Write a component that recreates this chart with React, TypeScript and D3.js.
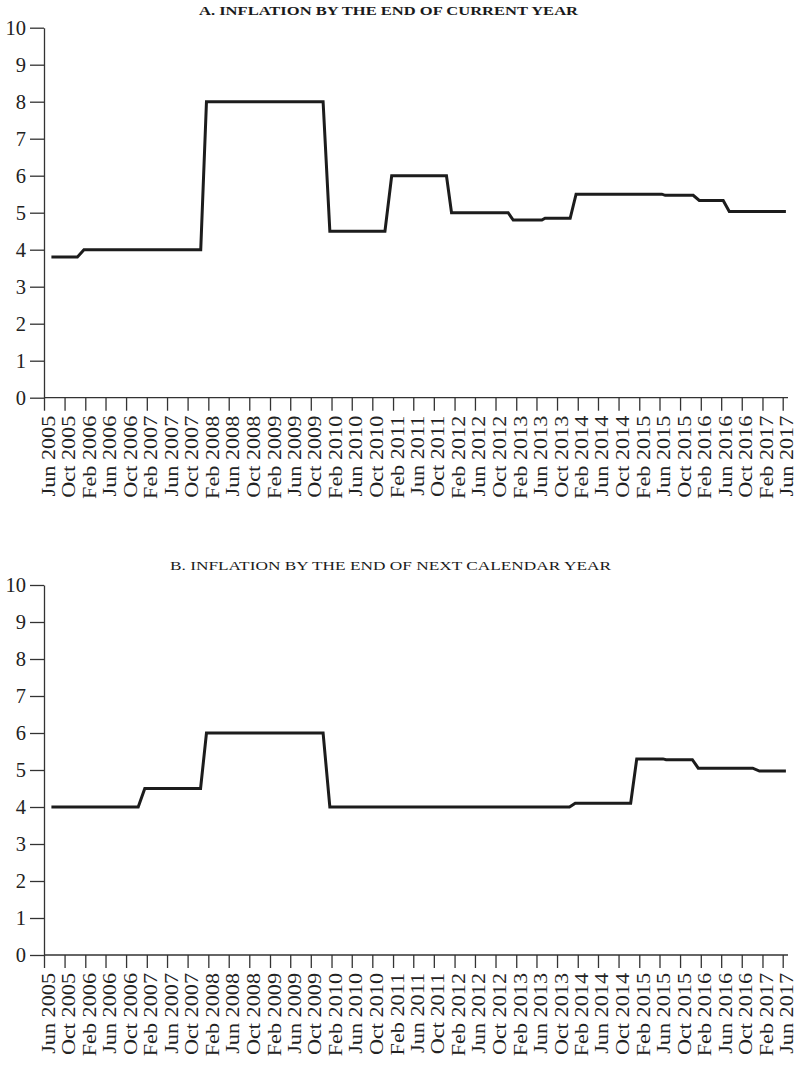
import React, { useEffect, useRef } from "react";
import * as d3 from "d3";

// tick labels on the x axis (every 4 months)
const xTickLabels = [
  "Jun 2005", "Oct 2005", "Feb 2006", "Jun 2006", "Oct 2006", "Feb 2007", "Jun 2007",
  "Oct 2007", "Feb 2008", "Jun 2008", "Oct 2008", "Feb 2009", "Jun 2009", "Oct 2009",
  "Feb 2010", "Jun 2010", "Oct 2010", "Feb 2011", "Jun 2011", "Oct 2011", "Feb 2012",
  "Jun 2012", "Oct 2012", "Feb 2013", "Jun 2013", "Oct 2013", "Feb 2014", "Jun 2014",
  "Oct 2014", "Feb 2015", "Jun 2015", "Oct 2015", "Feb 2016", "Jun 2016", "Oct 2016",
  "Feb 2017", "Jun 2017",
];
const yTicks = [0, 1, 2, 3, 4, 5, 6, 7, 8, 9, 10];

// A. inflation by the end of current year
const datesA = [
  "2005-07-15", "2005-12-16", "2006-01-24", "2007-12-18", "2008-01-21", "2009-12-13",
  "2010-01-22", "2010-12-15", "2011-01-24", "2011-12-15", "2012-01-14", "2012-12-15",
  "2013-01-14", "2013-07-03", "2013-07-22", "2013-12-18", "2014-01-22", "2015-06-15",
  "2015-07-05", "2015-12-18", "2016-01-23", "2016-06-13", "2016-07-19", "2017-06-20",
];
const valuesA = [
  3.8, 3.8, 4.0, 4.0, 8.0, 8.0,
  4.5, 4.5, 6.0, 6.0, 5.0, 5.0,
  4.8, 4.8, 4.85, 4.85, 5.5, 5.5,
  5.47, 5.47, 5.33, 5.33, 5.03, 5.03,
];

// B. inflation by the end of next calendar year
const datesB = [
  "2005-07-15", "2006-12-12", "2007-01-20", "2007-12-17", "2008-01-21", "2009-12-13",
  "2010-01-22", "2013-12-14", "2014-01-17", "2014-12-12", "2015-01-17", "2015-06-22",
  "2015-07-10", "2015-12-13", "2016-01-17", "2016-12-05", "2017-01-14", "2017-06-20",
];
const valuesB = [
  4.0, 4.0, 4.5, 4.5, 6.0, 6.0,
  4.0, 4.0, 4.1, 4.1, 5.3, 5.3,
  5.28, 5.28, 5.05, 5.05, 4.97, 4.97,
];

const W = 801;
const H = 1065;
const FONT = "'Liberation Serif', serif";
const INK = "#1c1c1c";
const STRETCH = 1.17; // the original face is wider than Times

const parseDay = d3.timeParse("%Y-%m-%d");
const parseTick = d3.timeParse("%b %Y");

const panels = [
  {
    title: "A. INFLATION BY THE END OF CURRENT YEAR",
    titleX: 199, titleY: 14.5, titleLen: 379, bold: true,
    top: 27.7, bottom: 397.7, dates: datesA, values: valuesA,
  },
  {
    title: "B. INFLATION BY THE END OF NEXT CALENDAR YEAR",
    titleX: 170, titleY: 569.5, titleLen: 441, bold: false,
    top: 585, bottom: 955, dates: datesB, values: valuesB,
  },
];

export default function App() {
  const ref = useRef<SVGSVGElement>(null);

  useEffect(() => {
    const svg = d3.select(ref.current);
    svg.selectAll("*").remove();

    const tickDates = xTickLabels.map((t) => parseTick(t) as Date);
    const x = d3
      .scaleTime()
      .domain([tickDates[0], tickDates[tickDates.length - 1]])
      .range([44, 782.7]);

    panels.forEach((p) => {
      const y = d3.scaleLinear().domain([0, 10]).range([p.bottom, p.top]);
      const g = svg.append("g");

      g.append("text")
        .attr("x", p.titleX)
        .attr("y", p.titleY)
        .attr("textLength", p.titleLen)
        .attr("lengthAdjust", "spacingAndGlyphs")
        .attr("font-family", FONT)
        .attr("font-size", 13.5)
        .attr("font-weight", p.bold ? "bold" : "normal")
        .attr("fill", "#1a1a1a")
        .text(p.title);

      // y axis
      const yAxis = g
        .append("g")
        .attr("transform", `translate(${x.range()[0]},0)`)
        .call(
          d3.axisLeft(y).tickValues(yTicks).tickSize(14).tickSizeOuter(0).tickPadding(4)
            .tickFormat(d3.format("d"))
        );
      yAxis.selectAll("text")
        .attr("font-family", FONT)
        .attr("font-size", 20.5)
        .attr("fill", "#222");

      // x axis
      const xAxis = g
        .append("g")
        .attr("transform", `translate(0,${p.bottom})`)
        .call(
          d3.axisBottom(x).tickValues(tickDates).tickSize(13).tickSizeOuter(0)
            .tickFormat(d3.timeFormat("%b %Y") as any)
        );
      xAxis.select(".domain").attr("d", `M${x.range()[0]},0H788`);
      xAxis.selectAll("text")
        .attr("font-family", FONT)
        .attr("font-size", 19)
        .attr("fill", "#222")
        .attr("text-anchor", "end")
        .attr("transform", `rotate(-90) scale(${STRETCH},1)`)
        .attr("x", -18 / STRETCH)
        .attr("y", 10)
        .attr("dy", 0);

      g.selectAll(".domain, .tick line")
        .attr("stroke", "#333")
        .attr("stroke-width", 1.3);

      const pts = p.dates.map((d, i) => [parseDay(d) as Date, p.values[i]] as [Date, number]);
      const line = d3
        .line<[Date, number]>()
        .x((d) => x(d[0]))
        .y((d) => y(d[1]));

      g.append("path")
        .datum(pts)
        .attr("d", line)
        .attr("fill", "none")
        .attr("stroke", INK)
        .attr("stroke-width", 3)
        .attr("stroke-linejoin", "miter");
    });
  }, []);

  return (
    <div style={{ position: "absolute", left: 0, top: 0, background: "#fff" }}>
      <svg ref={ref} width={W} height={H} style={{ display: "block" }} />
    </div>
  );
}
